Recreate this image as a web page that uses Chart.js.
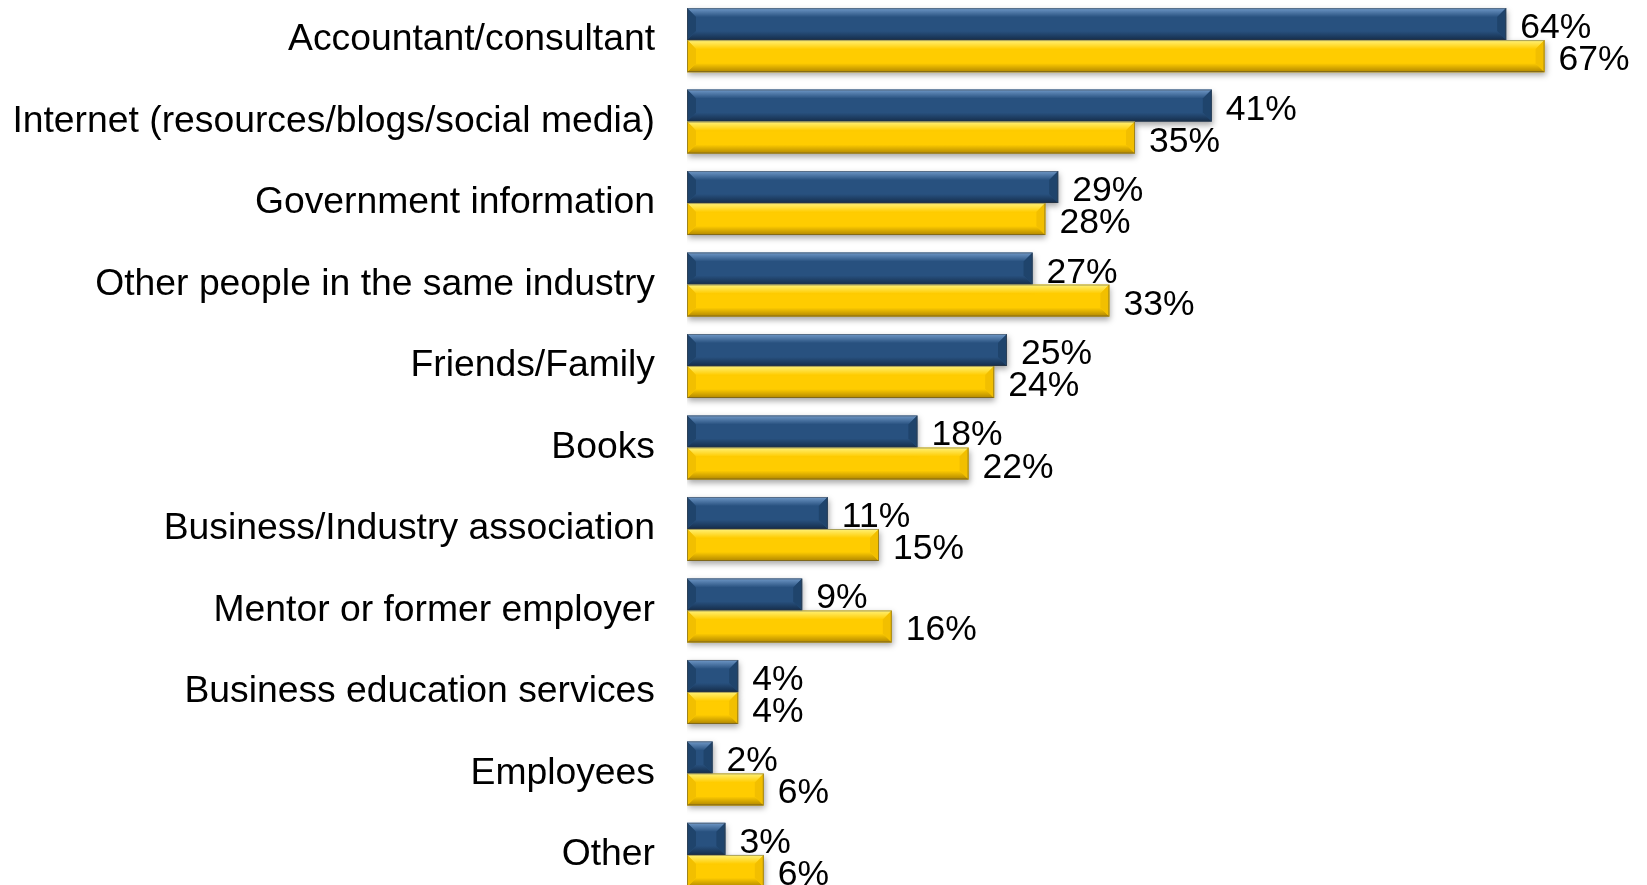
<!DOCTYPE html>
<html>
<head>
<meta charset="utf-8">
<script src="https://cdn.jsdelivr.net/npm/chart.js@4.4.1/dist/chart.umd.min.js"></script>
<style>
  html, body { margin:0; padding:0; background:#fff; overflow:hidden; }
  /* the y axis reserves half a label height + tick padding above and below the plot */
  #wrap { position:absolute; left:0; top:-55.5px; width:1647px; height:1005px; }
</style>
</head>
<body>
<div id="wrap"><canvas id="chart"></canvas></div>
<script>
const categories = [
  "Accountant/consultant",
  "Internet (resources/blogs/social media)",
  "Government information",
  "Other people in the same industry",
  "Friends/Family",
  "Books",
  "Business/Industry association",
  "Mentor or former employer",
  "Business education services",
  "Employees",
  "Other"
];
const seriesBlue = [64, 41, 29, 27, 25, 18, 11, 9, 4, 2, 3];
const seriesGold = [67, 35, 28, 33, 24, 22, 15, 16, 4, 6, 6];

const FONT = "'Liberation Sans', Arial, sans-serif";

// face / highlight / shade colours for the bevelled bars
const shades = {
  blue: { face:"#28517f", light:"#7099c8", dark:"#152d4a", side:"#1f446c" },
  gold: { face:"#ffcc00", light:"#fff27a", dark:"#b08600", side:"#f2bf00" }
};

/* soft drop shadow under each bar */
const shadowPlugin = {
  id:"shadow",
  beforeDatasetDraw(chart){
    const c = chart.ctx;
    c.save();
    c.shadowColor = "rgba(0,0,0,0.35)";
    c.shadowBlur = 6;
    c.shadowOffsetY = 3;
    c.shadowOffsetX = 1;
  },
  afterDatasetDraw(chart){ chart.ctx.restore(); }
};

function barBox(bar){
  const p = bar.getProps(["x","y","base","height"], true);
  return {
    l: Math.min(p.base, p.x), r: Math.max(p.base, p.x),
    t: p.y - p.height/2, b: p.y + p.height/2, y: p.y
  };
}

/* angled bevel on every bar, then the value labels on top */
const bevelPlugin = {
  id:"bevel",
  afterDatasetsDraw(chart){
    const c = chart.ctx;
    const quad = (pts, fill) => {
      c.beginPath();
      c.moveTo(pts[0], pts[1]);
      for (let j = 2; j < pts.length; j += 2) c.lineTo(pts[j], pts[j+1]);
      c.closePath();
      c.fillStyle = fill;
      c.fill();
    };

    chart.data.datasets.forEach((ds, di) => {
      const col = shades[ds.shade];
      chart.getDatasetMeta(di).data.forEach(bar => {
        const {l, r, t, b} = barBox(bar);
        const k = Math.min(9, (r-l)/2, (b-t)/2);
        c.save();
        let g = c.createLinearGradient(0, t, 0, t+k);
        g.addColorStop(0, col.light); g.addColorStop(1, col.face);
        quad([l,t, r,t, r-k,t+k, l+k,t+k], g);
        g = c.createLinearGradient(0, b-k, 0, b);
        g.addColorStop(0, col.face); g.addColorStop(1, col.dark);
        quad([l,b, r,b, r-k,b-k, l+k,b-k], g);
        quad([l,t, l+k,t+k, l+k,b-k, l,b], col.side);
        quad([r,t, r-k,t+k, r-k,b-k, r,b], col.side);
        c.strokeStyle = "rgba(60,60,60,0.45)";
        c.lineWidth = 1;
        c.strokeRect(l+0.5, t+0.5, r-l-1, b-t-1);
        c.restore();
      });
    });

    c.save();
    c.font = "35.5px " + FONT;
    c.fillStyle = "#000";
    c.textAlign = "left";
    c.textBaseline = "alphabetic";
    chart.data.datasets.forEach((ds, di) => {
      chart.getDatasetMeta(di).data.forEach((bar, i) => {
        const {r, y} = barBox(bar);
        c.fillText(ds.data[i] + "%", r + 14, y + 14);
      });
    });
    c.restore();
  }
};

new Chart(document.getElementById("chart"), {
  type:"bar",
  data:{
    labels:categories,
    datasets:[
      { data:seriesBlue, shade:"blue", backgroundColor:shades.blue.face, borderWidth:0,
        categoryPercentage:0.786, barPercentage:1 },
      { data:seriesGold, shade:"gold", backgroundColor:shades.gold.face, borderWidth:0,
        categoryPercentage:0.786, barPercentage:1 }
    ]
  },
  options:{
    indexAxis:"y",
    responsive:true,
    maintainAspectRatio:false,
    animation:false,
    layout:{ padding:0 },
    plugins:{ legend:{display:false}, tooltip:{enabled:false} },
    scales:{
      x:{ display:false, min:0, max:75 },
      y:{
        grid:{ display:false, drawTicks:false },
        border:{ display:false },
        ticks:{ color:"#000", padding:32, font:{ family:FONT, size:37.3 } },
        afterFit(scale){ scale.width = 687; }
      }
    }
  },
  plugins:[shadowPlugin, bevelPlugin]
});
</script>
</body>
</html>
